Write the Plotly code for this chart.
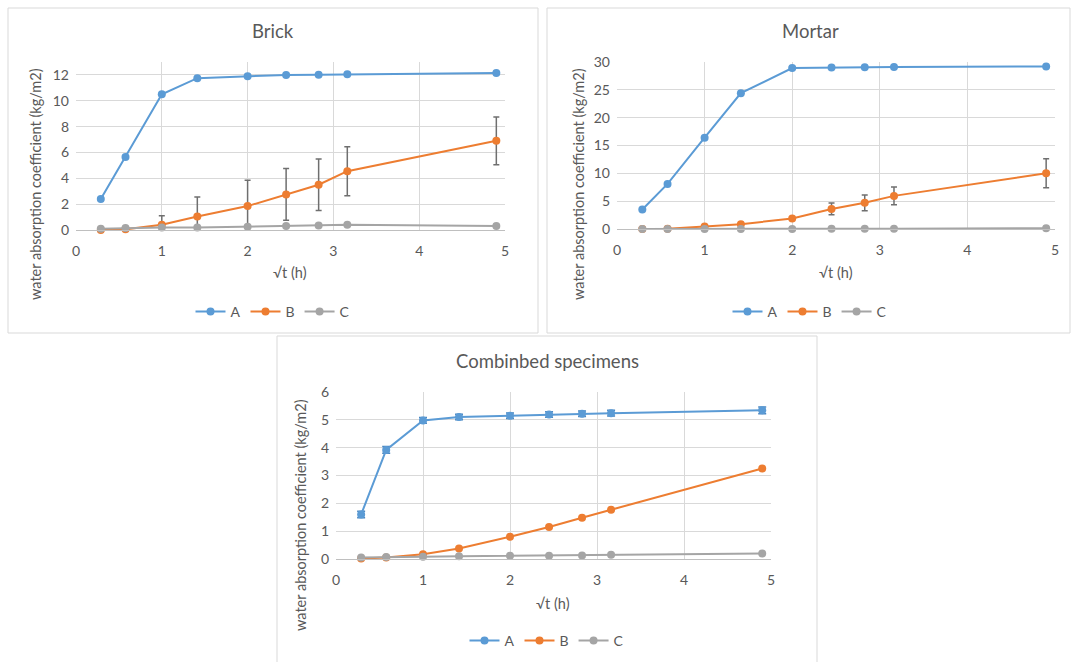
import plotly.graph_objects as go

# sqrt(t) in hours
x_vals = [0.289, 0.577, 1.0, 1.414, 2.0, 2.449, 2.828, 3.162, 4.899]
series_names = ["A", "B", "C"]

brick_A = [2.4, 5.65, 10.5, 11.75, 11.9, 12.0, 12.02, 12.05, 12.15]
brick_B = [0.0, 0.05, 0.4, 1.05, 1.85, 2.75, 3.5, 4.55, 6.9]
brick_B_err = [0.0, 0.0, 0.7, 1.5, 2.0, 2.0, 2.0, 1.9, 1.85]
brick_C = [0.1, 0.15, 0.2, 0.2, 0.25, 0.3, 0.35, 0.4, 0.3]

mortar_A = [3.5, 8.1, 16.4, 24.4, 28.9, 29.0, 29.05, 29.1, 29.2]
mortar_B = [0.0, 0.05, 0.45, 0.85, 1.9, 3.6, 4.7, 5.95, 10.0]
mortar_B_err = [0.0, 0.0, 0.0, 0.0, 0.0, 1.05, 1.4, 1.6, 2.6]
mortar_C = [0.0, 0.0, 0.0, 0.0, 0.0, 0.05, 0.05, 0.05, 0.15]

comb_A = [1.6, 3.92, 4.98, 5.1, 5.15, 5.19, 5.22, 5.24, 5.34]
comb_A_err = [0.12, 0.12, 0.1, 0.1, 0.1, 0.1, 0.1, 0.1, 0.12]
comb_B = [0.02, 0.05, 0.17, 0.38, 0.8, 1.15, 1.48, 1.77, 3.25]
comb_C = [0.05, 0.07, 0.08, 0.1, 0.12, 0.12, 0.13, 0.15, 0.2]

titles = ["Brick", "Mortar", "Combinbed specimens"]
x_title = "√t (h)"
y_title = "water absorption coefficient (kg/m2)"

colors = {"A": "#5B9BD5", "B": "#ED7D31", "C": "#A5A5A5"}
FONT = "Lato, 'Open Sans', sans-serif"
TXT = "#595959"
W, H = 1073, 662

def px_x(p):
    return p / W

def px_y(p):
    return 1 - p / H

panels = [
    dict(data=[brick_A, brick_B, brick_C], errs=[None, brick_B_err, None],
         errcol="#6F6F6F", errw=3,
         xd=(76, 505), yd=(62, 230), yr=[0, 13], dt=2,
         box=(8, 8, 538, 333), tpos=(273, 31), leg=(273, 312),
         ytpos=(35, 184), xtpos=(290, 273)),
    dict(data=[mortar_A, mortar_B, mortar_C], errs=[None, mortar_B_err, None],
         errcol="#6F6F6F", errw=3,
         xd=(617, 1055), yd=(62, 229), yr=[0, 30], dt=5,
         box=(547, 8, 1070, 333), tpos=(810, 31), leg=(810, 312),
         ytpos=(578, 184), xtpos=(836, 273)),
    dict(data=[comb_A, comb_B, comb_C], errs=[comb_A_err, None, None],
         errcol="#4A86C0", errw=4,
         xd=(336, 771), yd=(392, 559), yr=[0, 6], dt=1,
         box=(277, 336, 817, 668), tpos=(547, 361), leg=(547, 641),
         ytpos=(300, 515), xtpos=(553, 603)),
]

fig = go.Figure()
layout = dict(
    width=W, height=H, margin=dict(l=0, r=0, t=0, b=0, pad=0, autoexpand=False),
    paper_bgcolor="white", plot_bgcolor="white",
    font=dict(family=FONT, color=TXT, size=14),
    shapes=[], annotations=[],
)

for i, p in enumerate(panels):
    n = "" if i == 0 else str(i + 1)
    xa, ya = "x" + n, "y" + n
    legname = "legend" + n
    for name, vals, err in zip(series_names, p["data"], p["errs"]):
        tr = dict(
            x=x_vals, y=vals, name=name, mode="lines+markers",
            line=dict(color=colors[name], width=2),
            marker=dict(color=colors[name], size=8),
            xaxis=xa, yaxis=ya, legend=legname, cliponaxis=False,
        )
        if err is not None:
            tr["error_y"] = dict(type="data", array=err, visible=True,
                                 color=p["errcol"], thickness=1.5, width=p["errw"])
        fig.add_trace(go.Scatter(**tr))
    layout["xaxis" + n] = dict(
        domain=[px_x(p["xd"][0]), px_x(p["xd"][1])], range=[0, 5], dtick=1,
        anchor=ya, showgrid=True, gridcolor="#D9D9D9", gridwidth=1,
        showline=True, linecolor="#BFBFBF", linewidth=1, zeroline=False,
        ticks="", tickfont=dict(size=14, color=TXT), ticklabelstandoff=8,
        automargin=False, fixedrange=True,
    )
    layout["yaxis" + n] = dict(
        domain=[px_y(p["yd"][1]), px_y(p["yd"][0])], range=p["yr"], dtick=p["dt"],
        anchor=xa, showgrid=True, gridcolor="#D9D9D9", gridwidth=1,
        showline=False, zeroline=False, ticks="",
        tickfont=dict(size=14, color=TXT), ticklabelstandoff=6,
        automargin=False, fixedrange=True,
    )
    layout[legname] = dict(
        orientation="h", x=px_x(p["leg"][0]), y=px_y(p["leg"][1]),
        xanchor="center", yanchor="middle", bgcolor="rgba(0,0,0,0)",
        font=dict(size=14, color=TXT), itemwidth=30, tracegroupgap=0,
    )
    bx0, by0, bx1, by1 = p["box"]
    layout["shapes"].append(dict(
        type="rect", xref="paper", yref="paper",
        x0=px_x(bx0), x1=px_x(bx1), y0=px_y(by1), y1=px_y(by0),
        line=dict(color="#D9D9D9", width=1), fillcolor="rgba(0,0,0,0)", layer="below",
    ))
    layout["annotations"].append(dict(
        text=titles[i], xref="paper", yref="paper",
        x=px_x(p["tpos"][0]), y=px_y(p["tpos"][1]),
        xanchor="center", yanchor="middle", showarrow=False,
        font=dict(size=18.5, color=TXT),
    ))
    layout["annotations"].append(dict(
        text=y_title, xref="paper", yref="paper", textangle=-90,
        x=px_x(p["ytpos"][0]), y=px_y(p["ytpos"][1]),
        xanchor="center", yanchor="middle", showarrow=False,
        font=dict(size=14.5, color=TXT),
    ))
    layout["annotations"].append(dict(
        text=x_title, xref="paper", yref="paper",
        x=px_x(p["xtpos"][0]), y=px_y(p["xtpos"][1]),
        xanchor="center", yanchor="middle", showarrow=False,
        font=dict(size=14.5, color=TXT),
    ))

fig.update_layout(**layout)
fig.write_html("out.html")
